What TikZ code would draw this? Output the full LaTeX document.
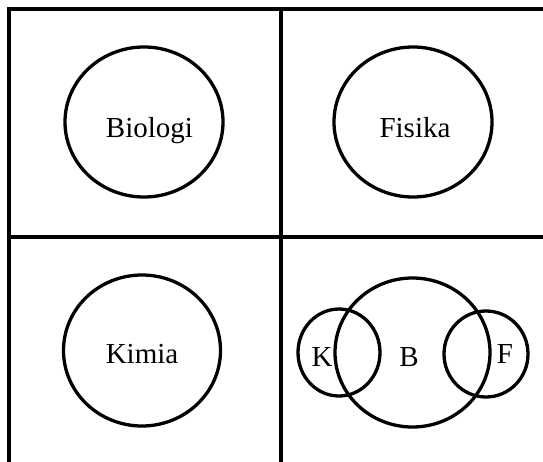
\documentclass[tikz,border=0pt]{standalone}
\usepackage{fontspec}
\setmainfont{Liberation Serif}
\usetikzlibrary{shapes.geometric}
\begin{document}
\begin{tikzpicture}[x=1pt,y=-1pt,
  rule/.style={line width=3.3pt,line cap=rect},
  ring/.style={line width=3.3pt},
  label/.style={anchor=base,inner sep=0pt,font=\fontsize{29}{31}\selectfont}]
\useasboundingbox (0,0) rectangle (543,461);
% table grid (open on the right and at the bottom)
\draw[rule] (9,470) -- (9,9) -- (560,9);
\draw[rule] (9,237) -- (560,237);
\draw[rule] (281,9) -- (281,470);
% single sets
\draw[ring] (144,122) ellipse [x radius=79,y radius=75];
\draw[ring] (413,122) ellipse [x radius=79,y radius=75];
\draw[ring] (142,350.5) ellipse [x radius=78.5,y radius=75.5];
\node[label] (bio) at (149.5,137) {Biologi};
\node[label] (fis) at (415,137) {Fisika};
\node[label] (kim) at (142,363) {Kimia};
% overlapping sets
\draw[ring] (412.5,352.5) ellipse [x radius=77.5,y radius=74.5];
\draw[ring] (339,352.5) ellipse [x radius=41,y radius=43.5];
\draw[ring] (486,354) ellipse [x radius=42,y radius=43];
\node[label] (k) at (322,366) {K};
\node[label] (b) at (409,366) {B};
\node[label] (f) at (505,363) {F};
\end{tikzpicture}
\end{document}
